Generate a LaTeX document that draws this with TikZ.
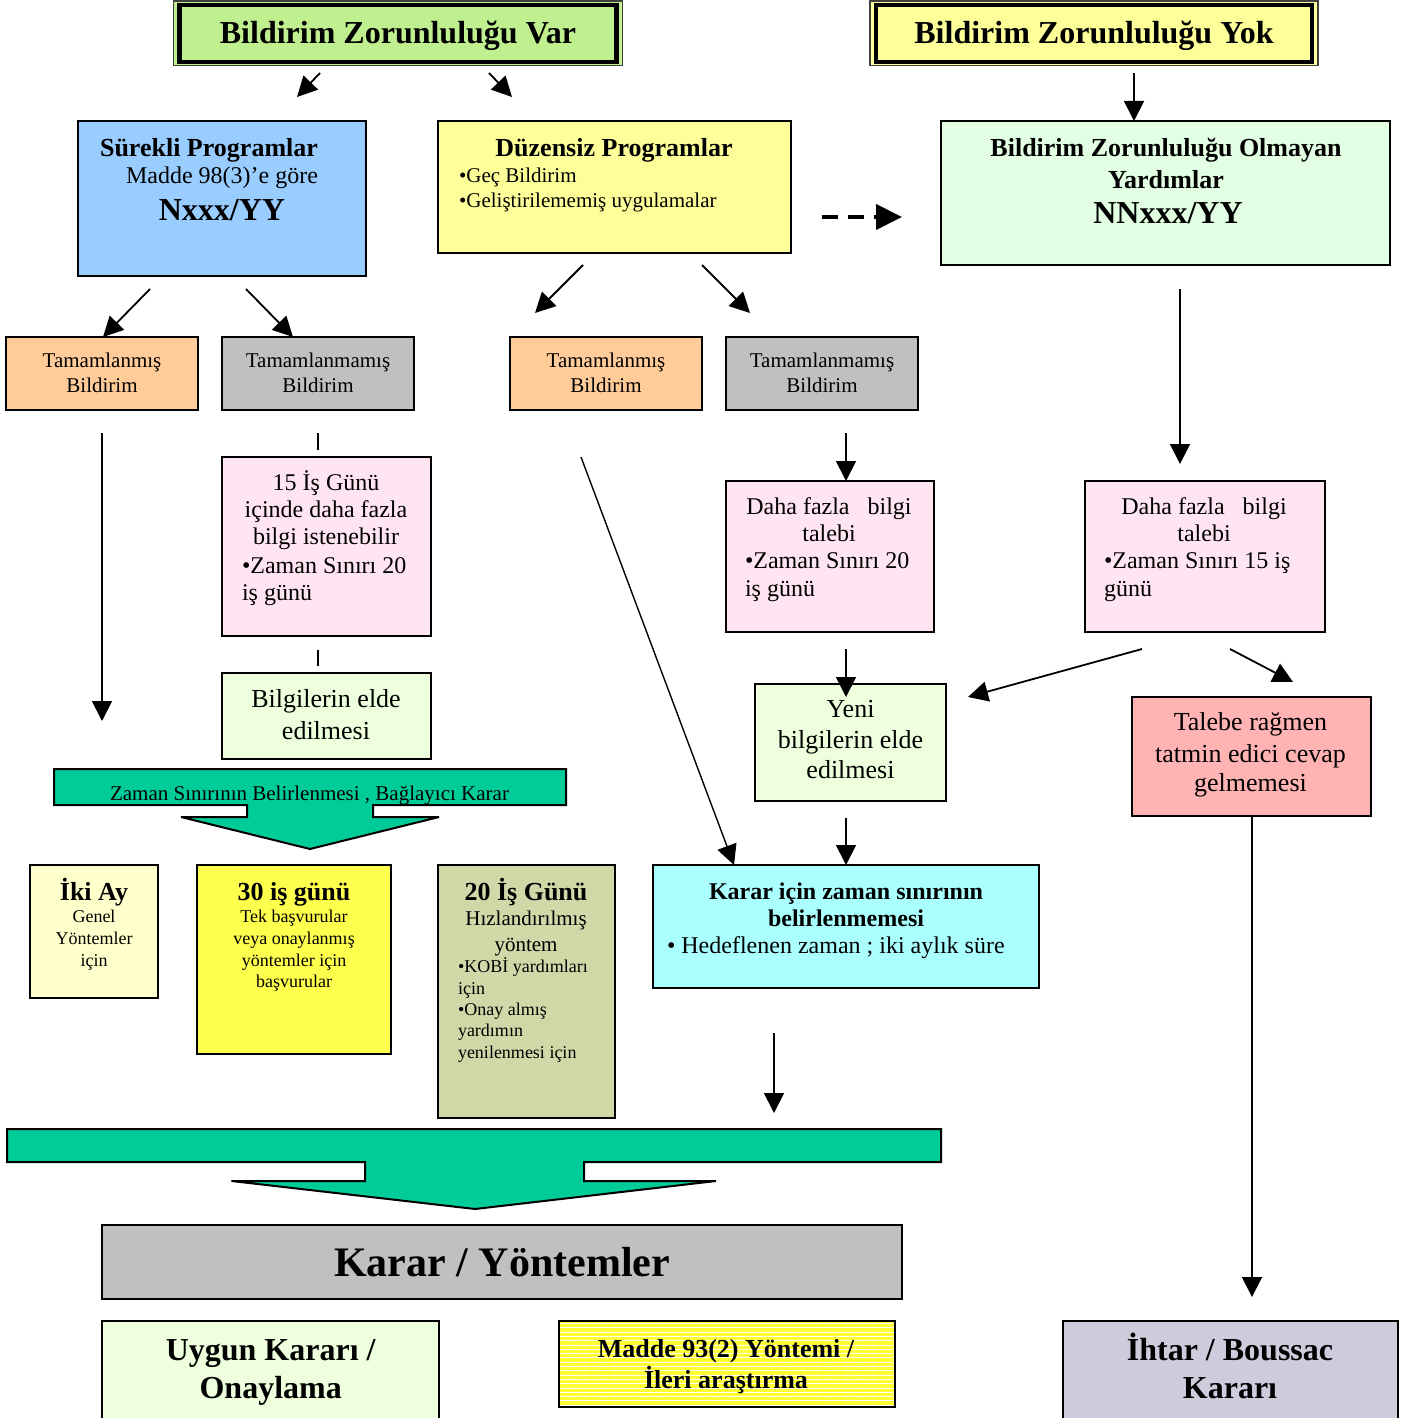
\documentclass[tikz,border=0pt]{standalone}
\usepackage{fontspec}
\setmainfont{Liberation Serif}
\usetikzlibrary{arrows.meta,patterns.meta}
\definecolor{cVar}{HTML}{BFEF8F}
\definecolor{cYok}{HTML}{FFFF99}
\definecolor{cSur}{HTML}{99CCFF}
\definecolor{cDuz}{HTML}{FFFF99}
\definecolor{cOlm}{HTML}{E3FFE3}
\definecolor{cTam}{HTML}{FFCC99}
\definecolor{cGray}{HTML}{C0C0C0}
\definecolor{cPink}{HTML}{FFE5F2}
\definecolor{cLg}{HTML}{EEFFDD}
\definecolor{cTal}{HTML}{FFB3B3}
\definecolor{cCyan}{HTML}{AAFFFF}
\definecolor{cIki}{HTML}{FFFFCC}
\definecolor{cYtz}{HTML}{FFFF4D}
\definecolor{cOl}{HTML}{D0D8A8}
\definecolor{cBan}{HTML}{00CC99}
\definecolor{cMad}{HTML}{FFFF33}
\definecolor{cIht}{HTML}{CCCCDD}
\newcommand\fsz[1]{\fontsize{#1}{#1}\selectfont}
\newcommand\bx[6]{\node[box,fill=#6,minimum width={(#4-#2)*1pt},minimum height={(#5-#3)*1pt}] (#1) at ({(#2+#4)/2},{(#3+#5)/2}) {};}
\tikzset{
  box/.style={draw=black,line width=2pt,inner sep=0pt,outer sep=0pt,rectangle},
  txt/.style={inner sep=0pt,outer sep=0pt,anchor=base},
  ltxt/.style={inner sep=0pt,outer sep=0pt,anchor=base west},
  arr/.style={line width=1.8pt,-{Triangle[length=20pt,width=20pt]}},
  thin arr/.style={line width=1.4pt,-{Triangle[length=20pt,width=20pt]}},
  tick/.style={line width=1.8pt},
  banner/.style={draw=black,line width=2pt,fill=cBan,line join=miter,miter limit=2.5}
}
\begin{document}
\begin{tikzpicture}[x=1pt,y=-1pt]
\useasboundingbox (0,0) rectangle (1413,1418);
\fill[white] (0,0) rectangle (1413,1418);

% ---------- top header boxes ----------
\node[draw=black!75,line width=1.2pt,fill=cVar,minimum width=449pt,minimum height=64.7pt,inner sep=0pt] (varo) at (398,33.4) {};
\node[draw=black,line width=4.6pt,minimum width=437pt,minimum height=57pt,inner sep=0pt] (vari) at (398,33.5) {};
\node[txt,font=\fsz{32}\bfseries] (vart) at (398,44) {Bildirim Zorunluluğu Var};

\node[draw=black!75,line width=1.2pt,fill=cYok,minimum width=448pt,minimum height=64.7pt,inner sep=0pt] (yoko) at (1094,33.4) {};
\node[draw=black,line width=4.6pt,minimum width=436pt,minimum height=57pt,inner sep=0pt] (yoki) at (1094,33.5) {};
\node[txt,font=\fsz{32}\bfseries] (yokt) at (1094,44) {Bildirim Zorunluluğu Yok};

% ---------- second row ----------
\bx{sur}{78}{121}{366}{276}{cSur}
\node[txt,font=\fsz{26}\bfseries] (surA) at (209,157) {Sürekli Programlar};
\node[txt,font=\fsz{24}] (surB) at (222,183) {Madde 98(3)’e göre};
\node[txt,font=\fsz{32}\bfseries] (surC) at (222,220) {Nxxx/YY};

\bx{duz}{438}{121}{791}{253}{cDuz}
\node[txt,font=\fsz{26}\bfseries] (duzA) at (614,157) {Düzensiz Programlar};
\node[ltxt,font=\fsz{21}] (duzB) at (459,182) {•Geç Bildirim};
\node[ltxt,font=\fsz{21}] (duzC) at (459,207) {•Geliştirilememiş uygulamalar};

\bx{olm}{941}{121}{1390}{265}{cOlm}
\node[txt,font=\fsz{26}\bfseries] (olmA) at (1166,157) {Bildirim Zorunluluğu Olmayan};
\node[txt,font=\fsz{26}\bfseries] (olmB) at (1166,188) {Yardımlar};
\node[txt,font=\fsz{32}\bfseries] (olmC) at (1168,223) {NNxxx/YY};

% ---------- third row ----------
\bx{tm1}{6}{337}{198}{410}{cTam}
\node[txt,font=\fsz{21}] (tm1a) at (102,367.5) {Tamamlanmış};
\node[txt,font=\fsz{21}] (tm1b) at (102,392.5) {Bildirim};
\bx{tn1}{222}{337}{414}{410}{cGray}
\node[txt,font=\fsz{21}] (tn1a) at (318,367.5) {Tamamlanmamış};
\node[txt,font=\fsz{21}] (tn1b) at (318,392.5) {Bildirim};
\bx{tm2}{510}{337}{702}{410}{cTam}
\node[txt,font=\fsz{21}] (tm2a) at (606,367.5) {Tamamlanmış};
\node[txt,font=\fsz{21}] (tm2b) at (606,392.5) {Bildirim};
\bx{tn2}{726}{337}{918}{410}{cGray}
\node[txt,font=\fsz{21}] (tn2a) at (822,367.5) {Tamamlanmamış};
\node[txt,font=\fsz{21}] (tn2b) at (822,392.5) {Bildirim};

% ---------- pink boxes ----------
\bx{pk1}{222}{457}{431}{636}{cPink}
\node[txt,font=\fsz{24}] (pk1a) at (326,490) {15 İş Günü};
\node[txt,font=\fsz{24}] (pk1b) at (326,517.5) {içinde daha fazla};
\node[txt,font=\fsz{24}] (pk1c) at (326,544) {bilgi istenebilir};
\node[ltxt,font=\fsz{24}] (pk1d) at (242,573) {•Zaman Sınırı 20};
\node[ltxt,font=\fsz{24}] (pk1e) at (242,600) {iş günü};

\bx{pk2}{726}{481}{934}{632}{cPink}
\node[txt,font=\fsz{24}] (pk2a) at (829,514) {Daha fazla~~~bilgi};
\node[txt,font=\fsz{24}] (pk2b) at (829,541) {talebi};
\node[ltxt,font=\fsz{24}] (pk2c) at (745,568.5) {•Zaman Sınırı 20};
\node[ltxt,font=\fsz{24}] (pk2d) at (745,596) {iş günü};

\bx{pk3}{1085}{481}{1325}{632}{cPink}
\node[txt,font=\fsz{24}] (pk3a) at (1204,514) {Daha fazla~~~bilgi};
\node[txt,font=\fsz{24}] (pk3b) at (1204,541) {talebi};
\node[ltxt,font=\fsz{24}] (pk3c) at (1104,568.5) {•Zaman Sınırı 15 iş};
\node[ltxt,font=\fsz{24}] (pk3d) at (1104,596) {günü};

% ---------- green / red boxes ----------
\bx{bil}{222}{673}{431}{759}{cLg}
\node[txt,font=\fsz{26}] (bila) at (326,707.5) {Bilgilerin elde};
\node[txt,font=\fsz{26}] (bilb) at (326,739) {edilmesi};

\bx{yen}{755}{684}{946}{801}{cLg}
\node[txt,font=\fsz{26}] (yena) at (850.5,717.5) {Yeni};
\node[txt,font=\fsz{26}] (yenb) at (850.5,748.6) {bilgilerin elde};
\node[txt,font=\fsz{26}] (yenc) at (850.5,778) {edilmesi};

\bx{tal}{1132}{697}{1371}{816}{cTal}
\node[txt,font=\fsz{26}] (tala) at (1250.5,730.7) {Talebe rağmen};
\node[txt,font=\fsz{26}] (talb) at (1250.5,762) {tatmin edici cevap};
\node[txt,font=\fsz{26}] (talc) at (1250.5,791.4) {gelmemesi};

% ---------- banner 1 ----------
\draw[banner] (54,769) -- (566,769) -- (566,805) -- (373,805) -- (373,817) -- (439,817)
  -- (310,849) -- (181,817) -- (247,817) -- (247,805) -- (54,805) -- cycle;
\node[txt,font=\fsz{21}] (bana) at (309.5,800) {Zaman Sınırının Belirlenmesi , Bağlayıcı Karar};

% ---------- fourth row ----------
\bx{iki}{30}{865}{158}{998}{cIki}
\node[txt,font=\fsz{26}\bfseries] (ikia) at (94,900) {İki Ay};
\node[txt,font=\fsz{18}] (ikib) at (94,922.7) {Genel};
\node[txt,font=\fsz{18}] (ikic) at (94,944) {Yöntemler};
\node[txt,font=\fsz{18}] (ikid) at (94,966) {için};

\bx{otuz}{197}{865}{391}{1054}{cYtz}
\node[txt,font=\fsz{26}\bfseries] (otza) at (294,900) {30 iş günü};
\node[txt,font=\fsz{18}] (otzb) at (294,922.7) {Tek başvurular};
\node[txt,font=\fsz{18}] (otzc) at (294,944) {veya onaylanmış};
\node[txt,font=\fsz{18}] (otzd) at (294,966) {yöntemler için};
\node[txt,font=\fsz{18}] (otze) at (294,987.7) {başvurular};

\bx{yir}{438}{865}{615}{1118}{cOl}
\node[txt,font=\fsz{26}\bfseries] (yira) at (526,900) {20 İş Günü};
\node[txt,font=\fsz{21}] (yirb) at (526,925.7) {Hızlandırılmış};
\node[txt,font=\fsz{21}] (yirc) at (526,951) {yöntem};
\node[ltxt,font=\fsz{18}] (yird) at (458,972.7) {•KOBİ yardımları};
\node[ltxt,font=\fsz{18}] (yire) at (458,994) {için};
\node[ltxt,font=\fsz{18}] (yirf) at (458,1015.7) {•Onay almış};
\node[ltxt,font=\fsz{18}] (yirg) at (458,1036.7) {yardımın};
\node[ltxt,font=\fsz{18}] (yirh) at (458,1058.3) {yenilenmesi için};

\bx{kic}{653}{865}{1039}{988}{cCyan}
\node[txt,font=\fsz{24}\bfseries] (kica) at (846,899.3) {Karar için zaman sınırının};
\node[txt,font=\fsz{24}\bfseries] (kicb) at (846,926.7) {belirlenmemesi};
\node[ltxt,font=\fsz{24}] (kicc) at (667,953.3) {• Hedeflenen zaman ; iki aylık süre};

% ---------- banner 2 ----------
\draw[banner] (7,1129) -- (941,1129) -- (941,1162) -- (584,1162) -- (584,1181) -- (716,1181)
  -- (475,1209) -- (231.5,1181) -- (365,1181) -- (365,1162) -- (7,1162) -- cycle;

% ---------- bottom ----------
\bx{kar}{102}{1225}{902}{1299}{cGray}
\node[txt,font=\fsz{42}\bfseries] (kara) at (502,1276.7) {Karar / Yöntemler};

\bx{uyg}{102}{1321}{439}{1432}{cLg}
\node[txt,font=\fsz{32}\bfseries] (uyga) at (270.7,1360.7) {Uygun Kararı /};
\node[txt,font=\fsz{32}\bfseries] (uygb) at (270.7,1398) {Onaylama};

\node[box,preaction={fill=cMad},pattern={Lines[angle=0,distance=4.3pt,line width=0.7pt]},pattern color=white,
  minimum width=336pt,minimum height=86pt] (mad) at (726.6,1364) {};
\node[txt,font=\fsz{26}\bfseries] (mada) at (726,1357) {Madde 93(2) Yöntemi /};
\node[txt,font=\fsz{26}\bfseries] (madb) at (726,1388) {İleri araştırma};

\bx{iht}{1063}{1321}{1398}{1432}{cIht}
\node[txt,font=\fsz{32}\bfseries] (ihta) at (1230,1360.7) {İhtar / Boussac};
\node[txt,font=\fsz{32}\bfseries] (ihtb) at (1230,1398) {Kararı};

% ---------- connectors ----------
\coordinate (a1s) at (320,73);   \coordinate (a1e) at (297,97);
\coordinate (a2s) at (489,73);   \coordinate (a2e) at (512,97);
\coordinate (a3s) at (1134,73);  \coordinate (a3e) at (1134,121);
\draw[arr] (a1s) -- (a1e);
\draw[arr] (a2s) -- (a2e);
\draw[arr] (a3s) -- (a3e);

\coordinate (ds) at (822,217);   \coordinate (de) at (902,217);
\draw[line width=4pt,dash pattern=on 16pt off 10pt,-{Triangle[length=26pt,width=25pt]}] (ds) -- (de);

\coordinate (b1s) at (150,289);  \coordinate (b1e) at (103,337);
\coordinate (b2s) at (246,289);  \coordinate (b2e) at (293,337);
\coordinate (b3s) at (583,265);  \coordinate (b3e) at (535,313);
\coordinate (b4s) at (702,265);  \coordinate (b4e) at (750,313);
\coordinate (b5s) at (1180,289); \coordinate (b5e) at (1180,464);
\draw[arr] (b1s) -- (b1e);
\draw[arr] (b2s) -- (b2e);
\draw[arr] (b3s) -- (b3e);
\draw[arr] (b4s) -- (b4e);
\draw[arr] (b5s) -- (b5e);

\coordinate (c1s) at (102,433);  \coordinate (c1e) at (102,721);
\draw[arr] (c1s) -- (c1e);
\coordinate (k1s) at (318,433);  \coordinate (k1e) at (318,450);
\coordinate (k2s) at (318,650);  \coordinate (k2e) at (318,666);
\draw[tick] (k1s) -- (k1e);
\draw[tick] (k2s) -- (k2e);

\coordinate (c2s) at (581,457);  \coordinate (c2e) at (734,865);
\draw[thin arr] (c2s) -- (c2e);
\coordinate (c3s) at (846,433);  \coordinate (c3e) at (846,481);
\draw[arr] (c3s) -- (c3e);
\coordinate (c4s) at (846,649);  \coordinate (c4e) at (846,697);
\draw[arr] (c4s) -- (c4e);
\coordinate (c5s) at (1142,649); \coordinate (c5e) at (968,697);
\draw[arr] (c5s) -- (c5e);
\coordinate (c6s) at (1230,649); \coordinate (c6e) at (1293,682);
\draw[arr] (c6s) -- (c6e);
\coordinate (c7e) at (1252,1297);
\draw[arr] (tal.south -| c7e) -- (c7e);
\coordinate (c8s) at (846,818);  \coordinate (c8e) at (846,865);
\draw[arr] (c8s) -- (c8e);
\coordinate (c9s) at (774,1033); \coordinate (c9e) at (774,1113);
\draw[arr] (c9s) -- (c9e);
\end{tikzpicture}
\end{document}
